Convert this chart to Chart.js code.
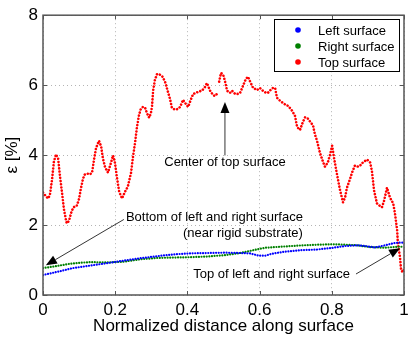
<!DOCTYPE html>
<html>
<head>
<meta charset="utf-8">
<script src="https://cdn.jsdelivr.net/npm/chart.js@4"></script>
<style>
  html, body { margin: 0; padding: 0; background: #fff; }
</style>
</head>
<body>
<canvas id="strainChart" width="415" height="338"></canvas>
<script>
// Data
const leftX = [0, 0.047, 0.083, 0.130, 0.177, 0.222, 0.269, 0.316, 0.360, 0.407,
               0.454, 0.504, 0.546, 0.573, 0.596, 0.615, 0.634, 0.670, 0.712, 0.759,
               0.803, 0.837, 0.870, 0.892, 0.920, 0.947, 0.975, 1.0];
const leftY = [0.57, 0.68, 0.77, 0.84, 0.91, 0.98, 1.05, 1.11, 1.16, 1.19,
               1.20, 1.21, 1.20, 1.19, 1.13, 1.12, 1.18, 1.24, 1.28, 1.30,
               1.35, 1.40, 1.42, 1.40, 1.36, 1.42, 1.49, 1.50];

const rightX = [0, 0.039, 0.066, 0.089, 0.130, 0.177, 0.222, 0.269, 0.316, 0.360,
                0.407, 0.454, 0.504, 0.546, 0.582, 0.615, 0.657, 0.720, 0.767, 0.803,
                0.837, 0.870, 0.906, 0.947, 0.981, 1.0];
const rightY = [0.77, 0.83, 0.88, 0.91, 0.94, 0.93, 0.95, 1.02, 1.06, 1.07,
                1.08, 1.10, 1.14, 1.20, 1.28, 1.35, 1.38, 1.42, 1.44, 1.45,
                1.44, 1.42, 1.37, 1.35, 1.38, 1.38];

const topX = [0.000, 0.006, 0.014, 0.019, 0.025, 0.030, 0.036, 0.042, 0.047, 0.053,
              0.058, 0.064, 0.066, 0.072, 0.078, 0.083, 0.089, 0.094, 0.100, 0.105,
              0.111, 0.116, 0.125, 0.130, 0.136, 0.141, 0.147, 0.155, 0.161, 0.166,
              0.172, 0.180, 0.186, 0.194, 0.199, 0.205, 0.211, 0.219, 0.227, 0.235,
              0.244, 0.249, 0.255, 0.260, 0.266, 0.271, 0.277, 0.283, 0.288, 0.294,
              0.299, 0.302, 0.305, 0.310, 0.316, 0.324, 0.330, 0.338, 0.343, 0.352,
              0.357, 0.366, 0.374, 0.380, 0.388, 0.393, 0.402, 0.410, 0.416, 0.424,
              0.432, 0.440, 0.449, 0.454, 0.463, 0.471, 0.476, 0.482, 0.485, 0.488,
              0.493, 0.499, 0.504, 0.510, 0.518, 0.524, 0.532, 0.540, 0.546, 0.554,
              0.562, 0.568, 0.573, 0.582, 0.593, 0.601, 0.609, 0.618, 0.623, 0.632,
              0.637, 0.643, 0.648, 0.657, 0.665, 0.673, 0.679, 0.684, 0.690, 0.698,
              0.704, 0.712, 0.720, 0.726, 0.734, 0.742, 0.748, 0.753, 0.759, 0.767,
              0.776, 0.781, 0.789, 0.795, 0.801, 0.806, 0.814, 0.823, 0.831, 0.837,
              0.842, 0.850, 0.856, 0.864, 0.873, 0.881, 0.886, 0.898, 0.906, 0.911,
              0.917, 0.925, 0.934, 0.939, 0.945, 0.953, 0.961, 0.970, 0.975, 0.981,
              0.983, 0.989, 0.992, 0.997, 1.000];
const topY = [2.93, 2.85, 2.76, 2.85, 3.30, 3.80, 4.02, 3.90, 3.40, 2.90,
              2.45, 2.12, 2.05, 2.12, 2.35, 2.48, 2.55, 2.56, 2.75, 3.05,
              3.33, 3.45, 3.47, 3.45, 3.50, 3.85, 4.20, 4.41, 4.25, 3.90,
              3.65, 3.50, 3.70, 3.99, 3.80, 3.35, 2.95, 2.76, 2.95, 3.10,
              3.50, 3.93, 4.35, 4.78, 5.15, 5.32, 5.38, 5.35, 5.20, 5.07,
              5.20, 5.40, 5.84, 6.15, 6.32, 6.30, 6.26, 6.10, 5.92, 5.60,
              5.35, 5.30, 5.32, 5.38, 5.58, 5.50, 5.38, 5.60, 5.75, 5.78,
              5.82, 5.84, 5.95, 6.06, 5.84, 5.72, 5.69, 5.75, null, 6.10,
              6.35, 6.30, 6.12, 5.84, 5.78, 5.84, 5.75, 5.75, 5.78, 5.98,
              6.18, 6.24, 6.12, 5.92, 5.86, 5.92, 5.84, 5.78, 5.78, 5.88,
              5.92, 5.92, 5.64, 5.55, 5.49, 5.43, 5.41, 5.35, 5.27, 5.12,
              4.80, 4.72, 4.95, 5.08, 5.04, 4.93, 4.85, 4.60, 4.41, 4.07,
              3.80, 3.67, 3.79, 4.00, 4.27, 3.93, 3.47, 2.99, 2.65, 2.80,
              3.07, 3.30, 3.50, 3.70, 3.67, 3.72, 3.79, 3.87, 3.79, 3.56,
              2.99, 2.62, 2.54, 2.51, 2.70, 3.07, 2.79, 2.62, 2.33, 1.85,
              1.48, 1.08, 0.71, 0.65, 0.75];

const seriesNames = ['Left surface', 'Right surface', 'Top surface'];
const seriesColors = ['#0000ff', '#008000', '#ff0000'];
const xTickLabels = ['0', '0.2', '0.4', '0.6', '0.8', '1'];
const yTickLabels = ['0', '2', '4', '6', '8'];

const FONT = '"Liberation Sans", Arial, Helvetica, sans-serif';

function toPoints(xs, ys) {
    return xs.map((x, i) => ({ x: x, y: ys[i] }));
}

// notes with arrows, in data coordinates
const notes = [
    { lines: ['Center of top surface'], x: 0.504, y: 3.79, align: 'center',
      from: [0.504, 3.99], to: [0.504, 5.52] },
    { lines: ['Bottom of left and right surface', '(near rigid substrate)'], x: 0.720, y: 2.22, align: 'right',
      from: [0.224, 2.16], to: [0.008, 0.85] },
    { lines: ['Top of left and right surface'], x: 0.416, y: 0.60, align: 'left',
      from: [0.867, 0.60], to: [0.989, 1.34] }
];

function arrow(ctx, x1, y1, x2, y2) {
    const ang = Math.atan2(y2 - y1, x2 - x1);
    const len = 11, half = 4.5;
    const bx = x2 - len * Math.cos(ang), by = y2 - len * Math.sin(ang);
    ctx.beginPath();
    ctx.moveTo(x1, y1);
    ctx.lineTo(bx, by);
    ctx.stroke();
    ctx.beginPath();
    ctx.moveTo(x2, y2);
    ctx.lineTo(bx + half * Math.sin(ang), by - half * Math.cos(ang));
    ctx.lineTo(bx - half * Math.sin(ang), by + half * Math.cos(ang));
    ctx.closePath();
    ctx.fill();
}

const matlabLook = {
    id: 'matlabLook',
    afterDatasetsDraw(chart) {
        const ctx = chart.ctx;
        const a = chart.chartArea;
        const xs = chart.scales.x, ys = chart.scales.y;
        ctx.save();

        // box and inward ticks
        ctx.strokeStyle = '#555';
        ctx.lineWidth = 1.5;
        ctx.strokeRect(a.left, a.top, a.right - a.left, a.bottom - a.top);
        ctx.lineWidth = 1;
        ctx.beginPath();
        xs.ticks.forEach(t => {
            const px = Math.round(xs.getPixelForValue(t.value)) + 0.5;
            ctx.moveTo(px, a.bottom); ctx.lineTo(px, a.bottom - 4);
            ctx.moveTo(px, a.top); ctx.lineTo(px, a.top + 4);
        });
        ys.ticks.forEach(t => {
            const py = Math.round(ys.getPixelForValue(t.value)) + 0.5;
            ctx.moveTo(a.left, py); ctx.lineTo(a.left + 4, py);
            ctx.moveTo(a.right, py); ctx.lineTo(a.right - 4, py);
        });
        ctx.stroke();

        // annotations
        ctx.fillStyle = '#000';
        ctx.strokeStyle = '#000';
        ctx.lineWidth = 0.8;
        ctx.font = '13px ' + FONT;
        ctx.textBaseline = 'middle';
        notes.forEach(n => {
            ctx.textAlign = n.align;
            const px = xs.getPixelForValue(n.x);
            let py = ys.getPixelForValue(n.y);
            n.lines.forEach(line => {
                ctx.fillText(line, px, py);
                py += 16;
            });
            arrow(ctx, xs.getPixelForValue(n.from[0]), ys.getPixelForValue(n.from[1]),
                  xs.getPixelForValue(n.to[0]), ys.getPixelForValue(n.to[1]));
        });

        // legend box, top right inside the axes
        const lx = 274, ly = 19, lw = 125, lh = 52;
        ctx.fillStyle = '#fff';
        ctx.fillRect(lx, ly, lw, lh);
        ctx.strokeStyle = '#000';
        ctx.lineWidth = 1;
        ctx.strokeRect(lx + 0.5, ly + 0.5, lw, lh);
        ctx.textAlign = 'left';
        chart.data.datasets.forEach((ds, i) => {
            const ry = ly + 11 + i * 16;
            ctx.fillStyle = ds.borderColor;
            ctx.beginPath();
            ctx.arc(lx + 24, ry, 2.8, 0, Math.PI * 2);
            ctx.fill();
            ctx.fillStyle = '#000';
            ctx.fillText(ds.label, lx + 44, ry + 1);
        });
        ctx.restore();
    }
};

const dotted = (w, gap) => ({
    showLine: true,
    pointRadius: 0,
    borderWidth: w,
    borderCapStyle: 'round',
    borderDash: [0.01, gap],
    spanGaps: false,
    tension: 0
});

new Chart(document.getElementById('strainChart'), {
    type: 'scatter',
    data: {
        datasets: [
            Object.assign({ label: seriesNames[0], data: toPoints(leftX, leftY),
                borderColor: seriesColors[0], backgroundColor: seriesColors[0] }, dotted(2.2, 2.6)),
            Object.assign({ label: seriesNames[1], data: toPoints(rightX, rightY),
                borderColor: seriesColors[1], backgroundColor: seriesColors[1] }, dotted(2.2, 2.6)),
            Object.assign({ label: seriesNames[2], data: toPoints(topX, topY),
                borderColor: seriesColors[2], backgroundColor: seriesColors[2] }, dotted(2.6, 3.2))
        ]
    },
    options: {
        responsive: false,
        animation: false,
        devicePixelRatio: 1,
        layout: { padding: { top: 14, right: 11, left: 0, bottom: 0 } },
        plugins: {
            legend: { display: false },
            tooltip: { enabled: false }
        },
        scales: {
            x: {
                type: 'linear',
                min: 0,
                max: 1,
                afterFit: function(scale) { scale.height = 43; },
                afterBuildTicks: function(scale) {
                    scale.ticks = xTickLabels.map(l => ({ value: parseFloat(l) }));
                },
                ticks: {
                    color: '#000',
                    font: { family: FONT, size: 17 },
                    padding: 5,
                    maxRotation: 0,
                    callback: function(value, index) { return xTickLabels[index]; }
                },
                grid: { color: '#b4b4b4', lineWidth: 1, drawTicks: false },
                border: { display: false, dash: [1, 3] },
                title: {
                    display: true,
                    text: 'Normalized distance along surface',
                    color: '#000',
                    font: { family: FONT, size: 17 },
                    padding: { top: 0, bottom: 1 }
                }
            },
            y: {
                type: 'linear',
                min: 0,
                max: 8,
                afterFit: function(scale) { scale.width = 43; },
                afterBuildTicks: function(scale) {
                    scale.ticks = yTickLabels.map(l => ({ value: parseFloat(l) }));
                },
                ticks: {
                    color: '#000',
                    font: { family: FONT, size: 17 },
                    padding: 5,
                    callback: function(value, index) { return yTickLabels[index]; }
                },
                grid: { color: '#b4b4b4', lineWidth: 1, drawTicks: false },
                border: { display: false, dash: [1, 3] },
                title: {
                    display: true,
                    text: 'ε [%]',
                    color: '#000',
                    font: { family: FONT, size: 17 },
                    padding: { top: 2, bottom: 0 }
                }
            }
        }
    },
    plugins: [matlabLook]
});
</script>
</body>
</html>
